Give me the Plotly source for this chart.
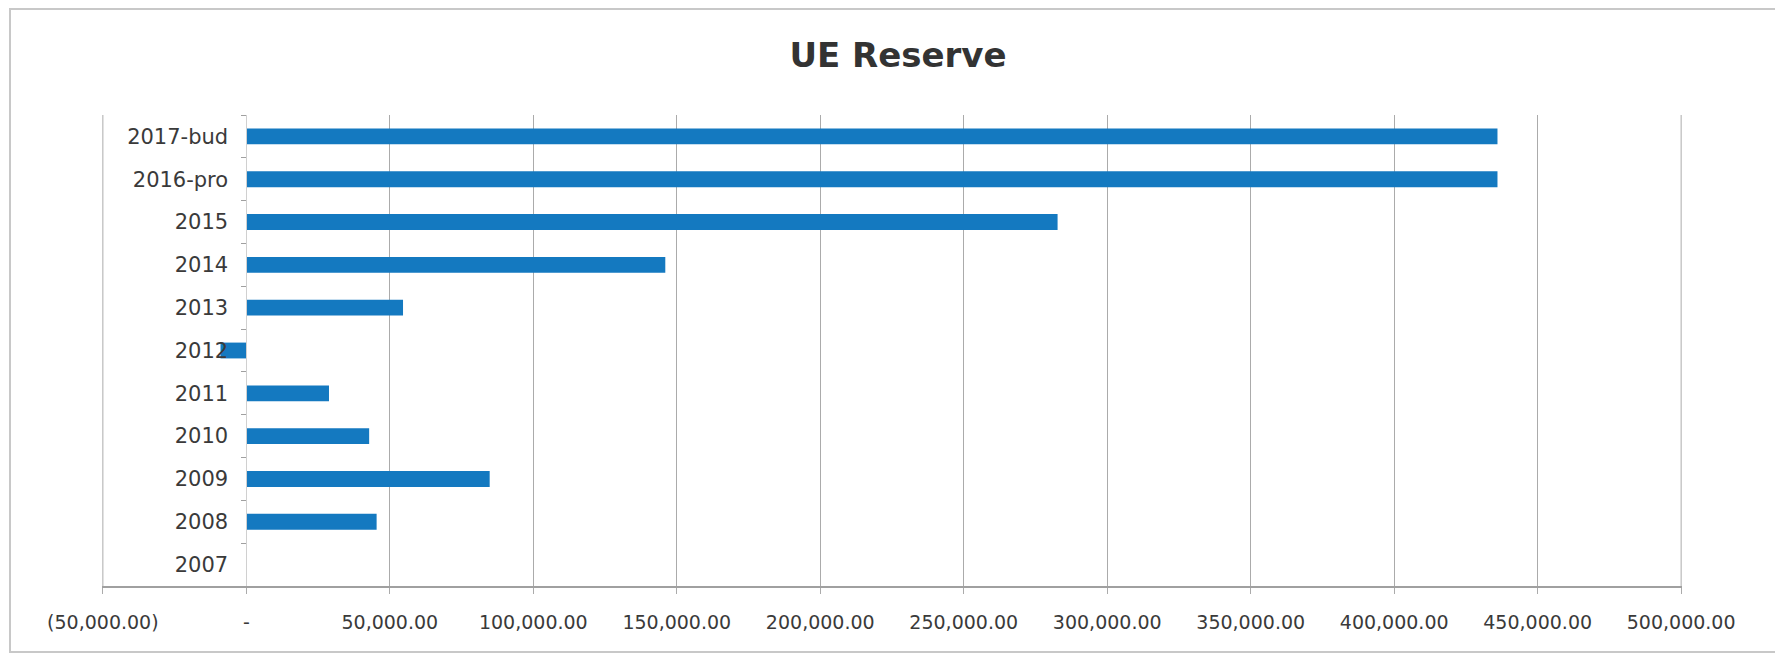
import plotly.graph_objects as go

categories = ["2007", "2008", "2009", "2010", "2011", "2012", "2013", "2014", "2015", "2016-pro", "2017-bud"]
values = [0, 45400, 84800, 42800, 28800, -9000, 54600, 146000, 282700, 436000, 436000]

tick_vals = [-50000, 0, 50000, 100000, 150000, 200000, 250000, 300000, 350000, 400000, 450000, 500000]
tick_text = ["(50,000.00)", "-", "50,000.00", "100,000.00", "150,000.00", "200,000.00",
             "250,000.00", "300,000.00", "350,000.00", "400,000.00", "450,000.00", "500,000.00"]

OFF = 8  # browser body margin
W, H = 1783 - OFF, 655 - OFF
L, R, T, B = 102 - OFF, 1783 - 1682, 115 - OFF, 655 - 586
pw, ph = W - L - R, H - T - B

font_family = "DejaVu Sans"
label_color = "#3a3a3a"
grid_color = "#ababab"

fig = go.Figure()
fig.add_trace(go.Bar(
    x=values, y=categories, orientation="h",
    marker=dict(color="#1479c0", line=dict(width=0)),
    hoverinfo="x+y",
))

pad = 300
x_min, x_max = tick_vals[0] - pad, tick_vals[-1] + pad
ypos = (0 - x_min) / (x_max - x_min)

shapes = [dict(
    type="rect", xref="paper", yref="paper",
    x0=(10 - OFF - L) / pw, x1=(1777 - OFF - L) / pw,
    y0=(H - B - (652 - OFF)) / ph, y1=(H - B - 1) / ph,
    line=dict(color="#c8c8c8", width=2), fillcolor="rgba(0,0,0,0)", layer="below",
)]
for v in (tick_vals[0], tick_vals[-1]):
    shapes.append(dict(type="line", xref="x", yref="paper", x0=v, x1=v, y0=0, y1=1,
                       line=dict(color=grid_color, width=1), layer="below"))

fig.update_layout(
    width=W, height=H,
    margin=dict(l=L, r=R, t=T, b=B, autoexpand=False),
    paper_bgcolor="white", plot_bgcolor="white",
    bargap=0.63,
    showlegend=False,
    title=dict(text="<b>UE Reserve</b>", x=(898 - OFF) / W, xref="container", xanchor="center",
               y=1 - (55 - OFF) / H, yref="container", yanchor="middle",
               font=dict(family=font_family, size=34, color="#333333")),
    xaxis=dict(
        range=[x_min, x_max], domain=[0, 1],
        tickmode="array", tickvals=tick_vals, ticktext=tick_text,
        showgrid=True, gridcolor=grid_color, gridwidth=1,
        zeroline=False,
        showline=True, linecolor="#a0a0a0", linewidth=2,
        ticks="outside", ticklen=6, tickcolor=grid_color,
        ticklabelstandoff=12,
        tickfont=dict(family=font_family, size=19, color=label_color),
        fixedrange=True,
    ),
    yaxis=dict(
        type="category", anchor="free", position=ypos, side="left",
        showgrid=False, zeroline=False,
        showline=True, linecolor="#d0d0d0", linewidth=1,
        ticks="outside", tickson="boundaries", ticklen=5, tickcolor="#a0a0a0",
        ticklabelstandoff=14,
        tickfont=dict(family=font_family, size=21, color=label_color),
        fixedrange=True,
    ),
    shapes=shapes,
)

fig.write_html("out.html")
